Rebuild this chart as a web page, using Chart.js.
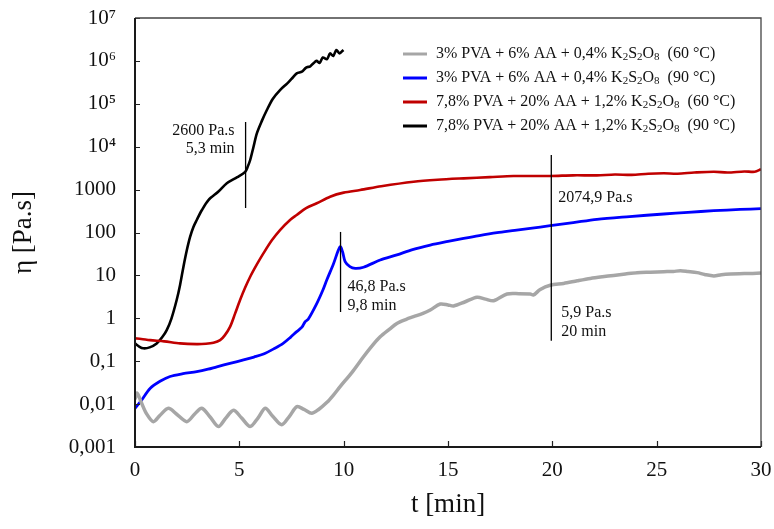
<!DOCTYPE html>
<html>
<head>
<meta charset="utf-8">
<script src="https://cdn.jsdelivr.net/npm/chart.js@4.4.1/dist/chart.umd.min.js"></script>
<style>
  html, body { margin: 0; padding: 0; background: #fff; }
  canvas { display: block; }
</style>
</head>
<body>
<canvas id="viscChart" width="774" height="529"></canvas>
<script>
const FONT = "'Liberation Serif', 'Times New Roman', serif";

// series: 3% PVA, 60 °C (gray)
const grayT = [0, 0.1, 0.3, 0.55, 0.88, 1.2, 1.6, 2.0, 2.48, 2.85, 3.2, 3.6, 4.0, 4.35, 4.72, 5.1, 5.52, 5.9, 6.24, 6.6, 7.03, 7.4, 7.76, 8.1, 8.47, 8.8, 9.2, 9.5, 9.83, 10.4, 10.95, 11.4, 11.75, 12.2, 12.55, 13.0, 13.35, 13.8, 14.15, 14.63, 15.0, 15.27, 15.8, 16.39, 16.8, 17.19, 17.83, 18.4, 18.94, 19.1, 19.42, 19.9, 20.54, 21.2, 21.82, 22.4, 22.94, 23.5, 24.06, 24.7, 25.34, 25.8, 26.14, 26.5, 26.94, 27.3, 27.74, 28.1, 28.54, 29.2, 30];
const grayV = [0.013, 0.018, 0.011, 0.006, 0.0039, 0.0055, 0.008, 0.0058, 0.0039, 0.0058, 0.008, 0.005, 0.003, 0.0047, 0.0072, 0.0048, 0.003, 0.0048, 0.008, 0.0052, 0.0033, 0.0052, 0.0087, 0.0075, 0.0061, 0.0075, 0.011, 0.016, 0.0255, 0.055, 0.127, 0.24, 0.37, 0.56, 0.76, 0.95, 1.09, 1.3, 1.56, 2.15, 2.05, 1.94, 2.4, 3.1, 2.8, 2.57, 3.68, 3.75, 3.68, 3.5, 4.7, 5.9, 6.5, 7.5, 8.5, 9.3, 10, 10.8, 11.6, 11.9, 12.2, 12.4, 12.8, 12.3, 11.6, 10.5, 9.7, 10.4, 10.8, 11, 11.3];

// series: 3% PVA, 90 °C (blue)
const blueT = [0, 0.3, 0.72, 1.2, 1.68, 2.3, 2.96, 3.5, 3.92, 4.6, 5.2, 5.7, 6.16, 6.7, 7.1, 7.45, 7.75, 8.0, 8.15, 8.3, 8.71, 9.0, 9.19, 9.5, 9.83, 9.95, 10.07, 10.3, 10.55, 10.95, 11.75, 12.55, 13.3, 14.15, 15.0, 15.75, 16.5, 17.35, 18.2, 18.94, 19.9, 21.0, 22.14, 23.7, 25.34, 26.5, 27.74, 29, 30];
const blueV = [0.008, 0.012, 0.023, 0.034, 0.044, 0.051, 0.057, 0.065, 0.074, 0.09, 0.107, 0.125, 0.147, 0.2, 0.26, 0.36, 0.49, 0.62, 0.83, 0.95, 2.2, 4.5, 7.8, 18, 46.7, 35, 21, 16, 14.6, 15.5, 22.8, 30, 40, 51, 62, 73, 85, 99, 112, 125, 144, 170, 203, 235, 270, 295, 322, 345, 359];

// series: 7,8% PVA, 60 °C (red)
const redT = [0, 0.3, 0.72, 1.4, 2.16, 2.96, 3.4, 3.76, 4.08, 4.3, 4.56, 4.8, 5.04, 5.28, 5.52, 5.84, 6.16, 6.55, 6.95, 7.43, 7.75, 8.2, 8.71, 9.35, 10.0, 10.79, 11.8, 13.35, 14.5, 15.75, 17.0, 18.14, 19.9, 21.0, 22.14, 23.0, 23.8, 24.6, 25.34, 26.0, 26.8, 27.74, 28.4, 29.2, 29.7, 30];
const redV = [0.34, 0.33, 0.31, 0.29, 0.26, 0.25, 0.255, 0.27, 0.31, 0.4, 0.64, 1.3, 2.7, 5.2, 9.3, 18, 33, 65, 114, 196, 256, 370, 480, 684, 850, 977, 1200, 1530, 1700, 1830, 1950, 2070, 2075, 2150, 2150, 2250, 2200, 2350, 2400, 2350, 2500, 2610, 2500, 2650, 2600, 2970];

// series: 7,8% PVA, 90 °C (black)
const blackT = [0, 0.2, 0.4, 0.7, 1.04, 1.3, 1.52, 1.75, 2.0, 2.16, 2.32, 2.48, 2.64, 2.8, 2.96, 3.2, 3.52, 4.0, 4.4, 4.9, 5.28, 5.4, 5.52, 5.68, 5.84, 6.08, 6.32, 6.6, 6.95, 7.3, 7.5, 7.75, 8.0, 8.2, 8.4, 8.55, 8.7, 8.85, 9.0, 9.2, 9.35, 9.5, 9.65, 9.8, 9.99];
const blackV = [0.26, 0.22, 0.2, 0.21, 0.26, 0.36, 0.53, 1.0, 2.7, 6, 15.8, 38, 79, 135, 196, 330, 571, 900, 1400, 1950, 2600, 3400, 4900, 10000, 20500, 40000, 71600, 130000, 209000, 300000, 380000, 513000, 560000, 700000, 750000, 880000, 1000000, 900000, 1200000, 1100000, 1500000, 1300000, 1800000, 1500000, 1800000];

const seriesLabels = [
  '3% PVA + 6% AA + 0,4% K₂S₂O₈  (60 °C)',
  '3% PVA + 6% AA + 0,4% K₂S₂O₈  (90 °C)',
  '7,8% PVA + 20% AA + 1,2% K₂S₂O₈  (60 °C)',
  '7,8% PVA + 20% AA + 1,2% K₂S₂O₈  (90 °C)'
];
const seriesColors = ['#a6a6a6', '#0000ff', '#c00000', '#000000'];

const xTicks = [0, 5, 10, 15, 20, 25, 30];
const yTicks = [0.001, 0.01, 0.1, 1, 10, 100, 1000, 1e4, 1e5, 1e6, 1e7];
const yTickLabels = ['0,001', '0,01', '0,1', '1', '10', '100', '1000', '10⁴', '10⁵', '10⁶', '10⁷'];

// marker lines: time, top value, bottom value, text lines
const markT = [5.3, 9.85, 19.95];
const markTop = [37700, 103, 6400];
const markBottom = [373, 1.4, 0.3];
const markText = [
  ['2600 Pa.s', '5,3 min'],
  ['46,8 Pa.s', '9,8 min'],
  ['2074,9 Pa.s', '5,9 Pa.s', '20 min']
];

const toPoints = (ts, vs) => ts.map((t, i) => ({ x: t, y: vs[i] }));

function drawRich(ctx, str, x, y, size) {
  const subs = '₀₁₂₃₄₅₆₇₈₉';
  let run = '', cx = x;
  const flush = () => {
    if (!run) return;
    ctx.font = size + 'px ' + FONT;
    ctx.fillText(run, cx, y);
    cx += ctx.measureText(run).width;
    run = '';
  };
  for (const ch of str) {
    const i = subs.indexOf(ch);
    if (i >= 0) {
      flush();
      ctx.font = Math.round(size * 0.68) + 'px ' + FONT;
      ctx.fillText(String(i), cx, y + size * 0.22);
      cx += ctx.measureText(String(i)).width;
    } else {
      run += ch;
    }
  }
  flush();
}

const decorPlugin = {
  id: 'decor',
  afterDatasetsDraw(chart) {
    const { ctx, chartArea: a, scales: { x, y } } = chart;
    ctx.save();

    // inner ticks
    ctx.strokeStyle = '#222';
    ctx.lineWidth = 1.2;
    ctx.beginPath();
    yTicks.forEach(v => {
      const py = Math.round(y.getPixelForValue(v)) + 0.5;
      ctx.moveTo(a.left, py); ctx.lineTo(a.left + 5, py);
    });
    xTicks.forEach(v => {
      const px = Math.round(x.getPixelForValue(v)) + 0.5;
      ctx.moveTo(px, a.bottom); ctx.lineTo(px, a.bottom - 6);
    });
    ctx.stroke();

    // frame
    ctx.strokeStyle = '#444';
    ctx.lineWidth = 1.3;
    ctx.beginPath();
    ctx.moveTo(a.left, a.top); ctx.lineTo(a.right, a.top); ctx.lineTo(a.right, a.bottom);
    ctx.stroke();
    ctx.strokeStyle = '#1a1a1a';
    ctx.lineWidth = 2;
    ctx.beginPath();
    ctx.moveTo(a.left, a.top); ctx.lineTo(a.left, a.bottom); ctx.lineTo(a.right, a.bottom);
    ctx.stroke();

    // marker lines and notes
    ctx.strokeStyle = '#000';
    ctx.lineWidth = 1.3;
    ctx.fillStyle = '#111';
    ctx.font = '16px ' + FONT;
    ctx.textBaseline = 'middle';
    markT.forEach((t, i) => {
      const px = x.getPixelForValue(t);
      const top = y.getPixelForValue(markTop[i]);
      const bot = y.getPixelForValue(markBottom[i]);
      ctx.beginPath();
      ctx.moveTo(px, top); ctx.lineTo(px, bot);
      ctx.stroke();
      const lines = markText[i];
      if (i === 0) {
        ctx.textAlign = 'right';
        ctx.fillText(lines[0], px - 11, top + 9);
        ctx.fillText(lines[1], px - 11, top + 27);
      } else if (i === 1) {
        ctx.textAlign = 'left';
        ctx.fillText(lines[0], px + 7, top + 55);
        ctx.fillText(lines[1], px + 7, top + 74);
      } else {
        ctx.textAlign = 'left';
        ctx.fillText(lines[0], px + 7, top + 43);
        ctx.fillText(lines[1], px + 10, top + 158);
        ctx.fillText(lines[2], px + 10, top + 177);
      }
    });

    // legend
    ctx.textAlign = 'left';
    ctx.textBaseline = 'middle';
    seriesLabels.forEach((lab, i) => {
      const ly = 54 + i * 24;
      ctx.strokeStyle = seriesColors[i];
      ctx.lineWidth = 3;
      ctx.beginPath();
      ctx.moveTo(403, ly); ctx.lineTo(427, ly);
      ctx.stroke();
      ctx.fillStyle = '#111';
      drawRich(ctx, lab, 436, ly, 16);
    });
    ctx.restore();
  }
};

const datasets = [
  { label: seriesLabels[0], data: toPoints(grayT, grayV), borderColor: seriesColors[0], borderWidth: 3.5 },
  { label: seriesLabels[1], data: toPoints(blueT, blueV), borderColor: seriesColors[1], borderWidth: 2.8 },
  { label: seriesLabels[2], data: toPoints(redT, redV), borderColor: seriesColors[2], borderWidth: 2.6 },
  { label: seriesLabels[3], data: toPoints(blackT, blackV), borderColor: seriesColors[3], borderWidth: 2.6 }
].map(d => Object.assign(d, { pointRadius: 0, tension: 0.3, fill: false }));

new Chart(document.getElementById('viscChart').getContext('2d'), {
  type: 'line',
  data: { datasets },
  plugins: [decorPlugin],
  options: {
    responsive: false,
    animation: false,
    devicePixelRatio: 1,
    layout: { padding: { top: 18, right: 13, left: 0, bottom: 0 } },
    plugins: { legend: { display: false }, tooltip: { enabled: false } },
    scales: {
      x: {
        type: 'linear',
        min: 0,
        max: 30,
        afterBuildTicks: s => { s.ticks = xTicks.map(v => ({ value: v })); },
        afterFit: s => { s.height = 82; s.paddingLeft = 0; s.paddingRight = 0; },
        grid: { display: false },
        border: { display: false },
        ticks: { color: '#111', padding: 3, font: { family: FONT, size: 21 } },
        title: { display: true, text: 't [min]', color: '#111', padding: { top: 0, bottom: 8 }, font: { family: FONT, size: 27 } }
      },
      y: {
        type: 'logarithmic',
        min: 0.001,
        max: 1e7,
        afterBuildTicks: s => { s.ticks = yTicks.map(v => ({ value: v })); },
        afterFit: s => { s.width = 135; s.paddingTop = 0; s.paddingBottom = 0; },
        grid: { display: false },
        border: { display: false },
        ticks: {
          color: '#111',
          padding: 11,
          font: { family: FONT, size: 21 },
          callback: v => { const i = yTicks.indexOf(v); return i >= 0 ? yTickLabels[i] : ''; }
        },
        title: { display: true, text: 'η [Pa.s]', color: '#111', padding: { top: 8, bottom: 0 }, font: { family: FONT, size: 27 } }
      }
    }
  }
});
</script>
</body>
</html>
